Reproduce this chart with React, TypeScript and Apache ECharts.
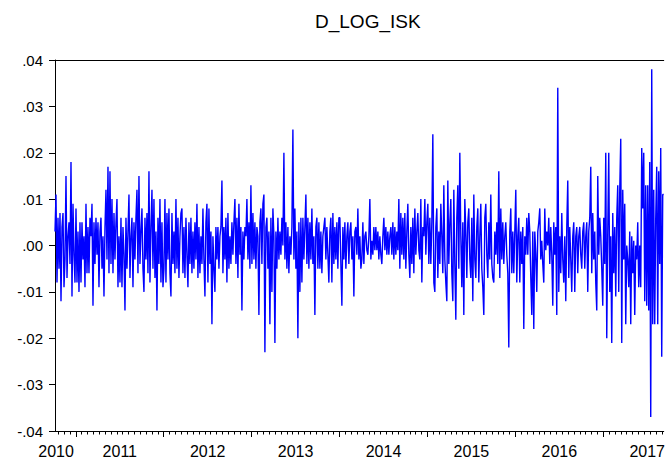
import React, { useEffect, useRef } from "react";
import * as echarts from "echarts";

const TITLE = "D_LOG_ISK";
const X_START = 2010.763;
const X_END = 2017.688;
const YEAR_TICKS = [2011, 2012, 2013, 2014, 2015, 2016, 2017];
const YEAR_LABELS = ["2010", "2011", "2012", "2013", "2014", "2015", "2016", "2017"];
const YEAR_LABEL_POS = [2010.775, 2011.5, 2012.5, 2013.5, 2014.5, 2015.5, 2016.5, 2017.5];
const Y_MIN = -0.04;
const Y_MAX = 0.04;
const Y_STEP = 0.01;

// daily log-differences, in thousandths
const v2010 = [3, 11, -8, 6, -5, 7, -12, 4, 7, -9, -3, 15, -7, 2, 5, -4, 18, -11, 9, -2, -8];
const v2011 = [
  8, -8, 3, -10, 5, -8, 5, -3, 2, -9,
  9, -6, 4, -6, 6, 2, 9, -13, 5, -4,
  6, -2, 5, -9, 3, 6, -5, 2, -11, 4,
  12, -3, 17, -6, 16, -4, 10, -6, 7, -3,
  5, 10, -9, 2, -8, 6, -9, 4, -2, -14,
  6, -5, 3, 11, -7, 2, 6, -9, 5, -3,
  6, 12, -6, 15, -4, 3, 8, -5, -10, 6,
  -3, 7, -6, 16, -8, 4, 12, -5, 10, -7,
  3, -14, 6, -4, 10, -8, 5, -9,
];
const v2012 = [
  -5, 10, -8, 7, -3, 8, -6, -11, 7, -4,
  3, -6, 10, -5, 6, -7, 2, 7, 8, -6,
  4, -7, 6, -2, -9, 5, -4, 6, -6, 3,
  -5, 5, -3, 9, -7, 4, -6, 2, -4, 8,
  -3, -11, 5, 9, -8, 8, -4, 3, -17, 2,
  -5, -10, 4, -3, 4, -5, 2, 4, 14, -6,
  4, -3, 6, -8, 7, -5, 2, -4, 5, -2,
  5, 10, -4, 6, -7, 9, -2, 4, -14, 3,
  -3, 4, 2, 10, -3, 5, -5, 13,
];
const v2013 = [
  -4, 7, -3, 5, -5, 4, 2, -15, 5, 8,
  -4, 9, 11, -23, 4, 6, -5, 3, -17, 6,
  -10, 8, 2, -21, 3, -5, 6, -3, 3, -2,
  6, 0, 20, -3, 5, -5, 4, -6, 2, -2,
  4, 25, -3, 8, -5, 3, -20, 5, -10, 6,
  -8, 6, -3, 4, 11, -4, 6, -5, 5, -3,
  8, -4, 2, -15, 4, 6, -5, 5, -5, 3,
  -6, 2, 4, 6, -3, 4, -2, -8, 3, 6,
  -8, 7, -4, 4, -3, 5, -5, 6,
];
const v2014 = [
  6, -4, -13, 4, -3, 5, -5, 2, 5, -4,
  3, 5, -3, 2, -11, 3, 4, -2, 8, -3,
  2, -5, -3, 5, -4, 2, 3, -1, -2, 2,
  10, -3, 1, -2, 4, -1, 4, -1, 3, -3,
  2, -2, -4, 2, 6, -1, 4, -2, 3, -2,
  2, 4, -2, 5, -3, 4, -2, 3, -1, 10,
  -5, 7, -2, 6, -3, 7, -5, 3, 9, -2,
  -7, 4, -4, 6, -6, 8, -2, 3, 7, -1,
  -3, 10, -8, 4, 2, 10, -2, 5,
];
const v2015 = [
  9, -4, 6, -4, 5, 24, -8, -10, 4, 8,
  -7, 3, -4, 9, 2, -6, 13, -3, -8, -12,
  14, -4, 5, 10, -6, -12, 12, -4, -16, 6,
  13, -5, 20, 2, -9, 5, -15, 10, 3, -7,
  5, 8, -3, -7, 6, -12, 11, -3, -7, 4,
  8, -8, 2, 9, -5, -9, -15, 6, 9, -2,
  -7, 5, -3, 11, -4, -7, -8, 3, -2, 5,
  -4, 16, -7, 8, -3, 5, -4, 2, 5, -2,
  -6, -22, 3, 8, -6, 3, -6, 3,
];
const v2016 = [
  12, -8, 2, 6, -8, 3, -4, 4, -18, 2,
  -2, 6, -2, 7, 3, -7, -15, 3, -18, 3,
  -2, -10, 3, 5, 8, -3, 1, -4, -8, 8,
  -1, 3, 0, 6, -4, 4, -2, -13, 5, -2,
  4, -15, 34, -10, 2, -6, 7, -3, -8, 2,
  -12, 4, 14, -7, 4, -3, -10, 2, 5, -10,
  2, 4, -6, 2, 4, -2, -5, 3, 5, -5,
  2, 5, -10, 3, 6, 17, -6, 7, -3, 3,
  -8, -14, 15, -2, 6, 2, -5, -13,
];
const v2017 = [
  6, -4, 20, -20, 3, 20, -10, 2, -21, 7,
  -6, 4, -11, 6, 13, -10, 12, 23, -21, 12,
  -3, 9, -17, 0, -3, -9, 3, -17, 2, -6,
  1, -15, 0, -3, 5, -9, 0, -9, 21, 8,
  20, -12, 13, -13, 13, -14, 18, -37, 38, -17,
  12, -17, 6, 17, -17, 16, -4, 21, -24, 11,
  11,
];

const ALL_VALUES = [...v2010, ...v2011, ...v2012, ...v2013, ...v2014, ...v2015, ...v2016, ...v2017];

function buildSeriesData(): [number, number][] {
  const n = ALL_VALUES.length;
  const step = (X_END - X_START) / (n - 1);
  return ALL_VALUES.map((v, i) => [X_START + i * step, v / 1000]);
}

function minorTicks(): number[] {
  const out: number[] = [];
  for (let y = 2010; y <= 2017; y++) {
    for (let k = 1; k < 15; k++) {
      const t = y + k / 15;
      if (t > X_START && t < X_END) out.push(t);
    }
  }
  return out;
}

function yLabel(v: number): string {
  const s = Math.abs(v) < 1e-9 ? "0.00" : v.toFixed(2);
  return s.replace("0.", ".");
}

export default function App() {
  const ref = useRef<HTMLDivElement>(null);
  useEffect(() => {
    document.body.style.margin = "0";
    if (!ref.current) return;
    const chart = echarts.init(ref.current, undefined, { renderer: "svg" });
    const font = "'Liberation Sans', Arial, sans-serif";
    chart.setOption({
      animation: false,
      backgroundColor: "#ffffff",
      title: {
        text: TITLE,
        left: 310,
        top: 7,
        textStyle: { fontFamily: font, fontSize: 19, fontWeight: "normal", color: "#000" },
      },
      grid: { left: 55, right: 0, top: 60, bottom: 31, containLabel: false },
      xAxis: [
        {
          type: "value",
          min: X_START,
          max: X_END,
          position: "bottom",
          axisLine: { show: true, onZero: false, lineStyle: { color: "#000", width: 1 } },
          axisTick: { show: true, length: 6, customValues: YEAR_TICKS, lineStyle: { color: "#000" } },
          axisLabel: {
            show: true,
            customValues: YEAR_LABEL_POS,
            margin: 12,
            fontFamily: font,
            fontSize: 16,
            color: "#000",
            formatter: (v: number) => {
              let best = 0;
              for (let i = 1; i < YEAR_LABEL_POS.length; i++) {
                if (Math.abs(YEAR_LABEL_POS[i] - v) < Math.abs(YEAR_LABEL_POS[best] - v)) best = i;
              }
              return YEAR_LABELS[best];
            },
          },
          splitLine: { show: false },
        },
        {
          type: "value",
          min: X_START,
          max: X_END,
          position: "bottom",
          axisLine: { show: false, onZero: false },
          axisTick: { show: true, length: 3.5, customValues: minorTicks(), lineStyle: { color: "#000" } },
          axisLabel: { show: false },
          splitLine: { show: false },
        },
        {
          type: "value",
          min: X_START,
          max: X_END,
          position: "top",
          axisLine: { show: true, onZero: false, lineStyle: { color: "#000", width: 1 } },
          axisTick: { show: false },
          axisLabel: { show: false },
          splitLine: { show: false },
        },
      ],
      yAxis: {
        type: "value",
        min: Y_MIN,
        max: Y_MAX,
        interval: Y_STEP,
        axisLine: { show: true, onZero: false, lineStyle: { color: "#000", width: 1 } },
        axisTick: { show: true, length: 6, lineStyle: { color: "#000" } },
        axisLabel: { margin: 12, fontFamily: font, fontSize: 15, color: "#000", formatter: yLabel },
        splitLine: { show: false },
      },
      series: [
        {
          type: "line",
          xAxisIndex: 0,
          data: buildSeriesData(),
          showSymbol: false,
          lineStyle: { color: "#0000ff", width: 1.4 },
          itemStyle: { color: "#0000ff" },
        },
      ],
    });
    return () => chart.dispose();
  }, []);
  return <div ref={ref} style={{ position: "fixed", left: 0, top: 0, width: 668, height: 462 }} />;
}
